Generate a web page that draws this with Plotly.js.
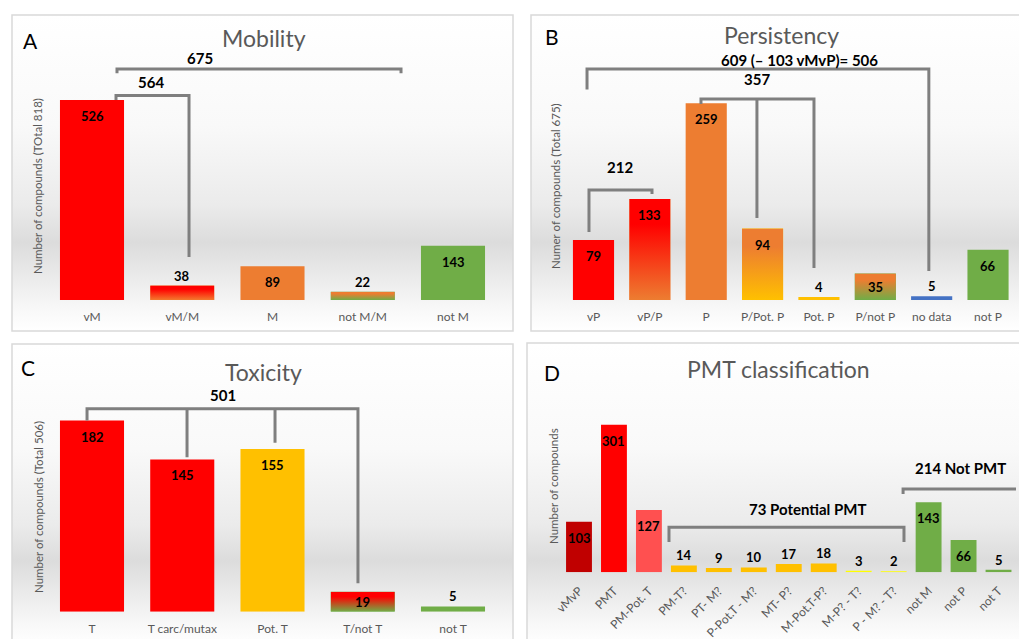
<!DOCTYPE html>
<html><head><meta charset="utf-8">
<script src="https://cdn.plot.ly/plotly-3.0.1.min.js"></script>
<style>html,body{margin:0;padding:0;background:#fff}#chart{width:1019px;height:639px}</style>
</head><body><div id="chart"></div>
<script>
// ---------- data ----------
const mobCats = ['vM','vM/M','M','not M/M','not M'];
const mobVals = [526,38,89,22,143];
const persCats = ['vP','vP/P','P','P/Pot. P','Pot. P','P/not P','no data','not P'];
const persVals = [79,133,259,94,4,35,5,66];
const toxCats = ['T','T carc/mutax','Pot. T','T/not T','not T'];
const toxVals = [182,145,155,19,5];
const pmtCats = ['vMvP','PMT','PM-Pot. T','PM-T?','PT- M?','P-Pot.T - M?','MT- P?','M-Pot.T-P?','M-P? - T?','P - M? - T?','not M','not P','not T'];
const pmtVals = [103,301,127,14,9,10,17,18,3,2,143,66,5];

// ---------- styles ----------
const RED='#FF0000', ORG='#ED7D31', GRN='#70AD47', YEL='#FFC000', BLU='#4472C4';
const mobColors=[RED,ORG,ORG,GRN,GRN];
const mobGrad=[null,[RED,'#F47A2E'],null,[ORG,GRN],null];
const persColors=[RED,ORG,ORG,YEL,YEL,GRN,BLU,GRN];
const persGrad=[null,[RED,ORG],null,[ORG,YEL],null,[ORG,GRN],null,null];
const toxColors=[RED,RED,YEL,GRN,GRN];
const toxGrad=[null,null,null,[RED,GRN],null];
const pmtColors=['#C00000','#FF0000','#FF5050',YEL,YEL,YEL,YEL,YEL,'#FFFF00','#FFFF00',GRN,GRN,GRN];

const W=1019,H=639;
const GRAY='#595959', FONT='Lato, "Open Sans", sans-serif';

const panels=[
 {ax:'',cats:mobCats,vals:mobVals,colors:mobColors,grad:mobGrad,x0:92,dx:90.25,w:0.71,base:300,scale:0.38,ymax:700,angle:0,
  box:[12,15,513,331],title:'Mobility',tpos:[264,38],letter:'A',lpos:[30,40],ytitle:'Number of compounds (TOtal 818)',ypos:[37,186]},
 {ax:'2',cats:persCats,vals:persVals,colors:persColors,grad:persGrad,x0:593.5,dx:56.36,w:0.73,base:300,scale:0.76,ymax:360,angle:0,
  box:[531,15,1024,331],title:'Persistency',tpos:[781,35],letter:'B',lpos:[552,36],ytitle:'Numer of compounds (Total 675)',ypos:[555,186]},
 {ax:'3',cats:toxCats,vals:toxVals,colors:toxColors,grad:toxGrad,x0:92,dx:90.25,w:0.71,base:611.7,scale:1.05,ymax:230,angle:0,
  box:[12,344,513,645],title:'Toxicity',tpos:[263,372],letter:'C',lpos:[28,367],ytitle:'Number of compounds (Total 506)',ypos:[38,507]},
 {ax:'4',cats:pmtCats,vals:pmtVals,colors:pmtColors,grad:null,x0:579,dx:34.96,w:0.74,base:572.3,scale:0.49,ymax:340,angle:-45,
  box:[527,343,1024,645],title:'PMT classification',tpos:[778,369],letter:'D',lpos:[552,372],ytitle:'Number of compounds',ypos:[553,486]}
];

// brackets: [panelIndex, path points in (category index, value)]
const brackets=[
 [0,[[0.277,597],[0.277,608],[3.424,608],[3.424,597]]],
 [0,[[0.266,526],[0.266,538],[1.075,538],[1.075,113]]],
 [1,[[-0.115,277],[-0.115,304],[5.95,304],[5.95,38]]],
 [1,[[1.907,258],[1.907,264.5],[3.912,264.5],[3.912,42]]],
 [1,[[2.9,264.5],[2.9,108]]],
 [1,[[-0.08,89.5],[-0.08,144.7],[1.038,144.7],[1.038,139.5]]],
 [2,[[-0.055,182],[-0.055,193.3],[2.947,193.3],[2.947,27]]],
 [2,[[1.053,193.3],[1.053,147]]],
 [2,[[2.028,193.3],[2.028,161]]],
 [3,[[2.574,62],[2.574,91.8],[9.296,91.8],[9.296,62]]],
 [3,[[9.27,160],[9.27,170],[12.6,170],[12.6,160]]]
];
const bracketLabels=[
 [0,'675',1.197,637],[0,'564',0.654,574],
 [1,'609 (– 103 vMvP)= 506',3.66,316],[1,'357',2.9,291],[1,'212',0.47,175],
 [2,'501',1.45,206],
 [3,'73 Potential PMT',6.55,129],[3,'214 Not PMT',10.9,213]
];

function svgURI(svg){return 'data:image/svg+xml;charset=utf-8,'+encodeURIComponent(svg);}
function gradSVG(stops){
  let s="<svg xmlns='http://www.w3.org/2000/svg' width='100' height='100' preserveAspectRatio='none'><defs><linearGradient id='g' x1='0' y1='0' x2='0' y2='1'>";
  stops.forEach(st=>{s+="<stop offset='"+st[0]+"' stop-color='"+st[1]+"'/>";});
  s+="</linearGradient></defs><rect width='100' height='100' fill='url(#g)'/></svg>";
  return svgURI(s);
}
const bgURI=gradSVG([[0,'#ffffff'],[0.35,'#f9f9f9'],[0.6,'#ebebeb'],[0.72,'#dcdcdc'],[0.84,'#ececec'],[0.93,'#f8f8f8'],[1,'#ffffff']]);

const data=[], layout={width:W,height:H,margin:{l:0,r:0,t:0,b:0},showlegend:false,
  paper_bgcolor:'#ffffff',plot_bgcolor:'rgba(0,0,0,0)',font:{family:FONT,color:GRAY},
  annotations:[],shapes:[],images:[]};

panels.forEach((p,k)=>{
  const idx=p.cats.map((c,i)=>i);
  const xa='x'+p.ax, ya='y'+p.ax;
  data.push({type:'bar',x:idx,y:p.vals,xaxis:xa,yaxis:ya,width:p.w,
    marker:{color:p.colors,line:{width:0}},hoverinfo:'skip'});
  const n=p.cats.length;
  const xl=p.x0-p.dx/2, xr=p.x0+p.dx*(n-1)+p.dx/2;
  const ytop=p.base-p.ymax*p.scale;
  layout['xaxis'+p.ax]={domain:[xl/W,xr/W],range:[-0.5,n-0.5],anchor:ya,tickvals:idx,ticktext:p.cats,
    tickangle:p.angle,ticks:'outside',ticklen:p.angle?6:6,tickcolor:'rgba(0,0,0,0)',
    tickfont:{family:FONT,size:12,color:GRAY},showgrid:false,zeroline:false,showline:false,fixedrange:true};
  layout['yaxis'+p.ax]={domain:[1-p.base/H,1-ytop/H],range:[0,p.ymax],anchor:xa,showticklabels:false,
    showgrid:false,zeroline:false,showline:false,ticks:'',fixedrange:true};
  // panel background and border
  const b=p.box;
  layout.images.push({source:bgURI,xref:'paper',yref:'paper',x:b[0]/W,y:1-b[1]/H,sizex:(b[2]-b[0])/W,sizey:(b[3]-b[1])/H,
    xanchor:'left',yanchor:'top',sizing:'stretch',layer:'below'});
  layout.shapes.push({type:'rect',xref:'paper',yref:'paper',x0:b[0]/W,x1:b[2]/W,y0:1-b[1]/H,y1:1-b[3]/H,
    line:{color:'#d9d9d9',width:1.5},fillcolor:'rgba(0,0,0,0)',layer:'below'});
  // gradient bars
  if(p.grad){p.grad.forEach((g,i)=>{ if(!g) return;
    layout.images.push({source:gradSVG([[0,g[0]],[0.25,g[0]],[1,g[1]]]),xref:xa,yref:ya,x:i-p.w/2,y:p.vals[i],
      sizex:p.w,sizey:p.vals[i],xanchor:'left',yanchor:'top',sizing:'stretch',layer:'above'});
  });}
  // value labels
  p.vals.forEach((v,i)=>{
    const h=v*p.scale;
    const ys = h>=18 ? -Math.min(16,h/2) : 10;
    layout.annotations.push({xref:xa,yref:ya,x:i,y:v,text:String(v),showarrow:false,yanchor:'middle',yshift:ys,
      font:{family:FONT,size:13,color:'#000000',weight:'bold'}});
  });
  // titles
  layout.annotations.push({xref:'paper',yref:'paper',x:p.tpos[0]/W,y:1-p.tpos[1]/H,text:p.title,showarrow:false,
    xanchor:'center',yanchor:'middle',font:{family:FONT,size:23,color:GRAY}});
  layout.annotations.push({xref:'paper',yref:'paper',x:p.lpos[0]/W,y:1-p.lpos[1]/H,text:p.letter,showarrow:false,
    xanchor:'center',yanchor:'middle',font:{family:FONT,size:21,color:'#000000'}});
  layout.annotations.push({xref:'paper',yref:'paper',x:p.ypos[0]/W,y:1-p.ypos[1]/H,text:p.ytitle,showarrow:false,
    textangle:-90,xanchor:'center',yanchor:'middle',font:{family:FONT,size:11.5,color:GRAY}});
});

brackets.forEach(([k,pts])=>{
  const p=panels[k];
  const path=pts.map((q,j)=>(j?'L':'M')+q[0]+','+q[1]).join(' ');
  layout.shapes.push({type:'path',xref:'x'+p.ax,yref:'y'+p.ax,path:path,
    line:{color:'#7f7f7f',width:3},layer:'above'});
});
bracketLabels.forEach(([k,t,x,y])=>{
  const p=panels[k];
  layout.annotations.push({xref:'x'+p.ax,yref:'y'+p.ax,x:x,y:y,text:t,showarrow:false,xanchor:'center',yanchor:'middle',
    font:{family:FONT,size:15,color:'#000000',weight:'bold'}});
});

Plotly.newPlot('chart',data,layout,{staticPlot:true,displayModeBar:false});
</script></body></html>
